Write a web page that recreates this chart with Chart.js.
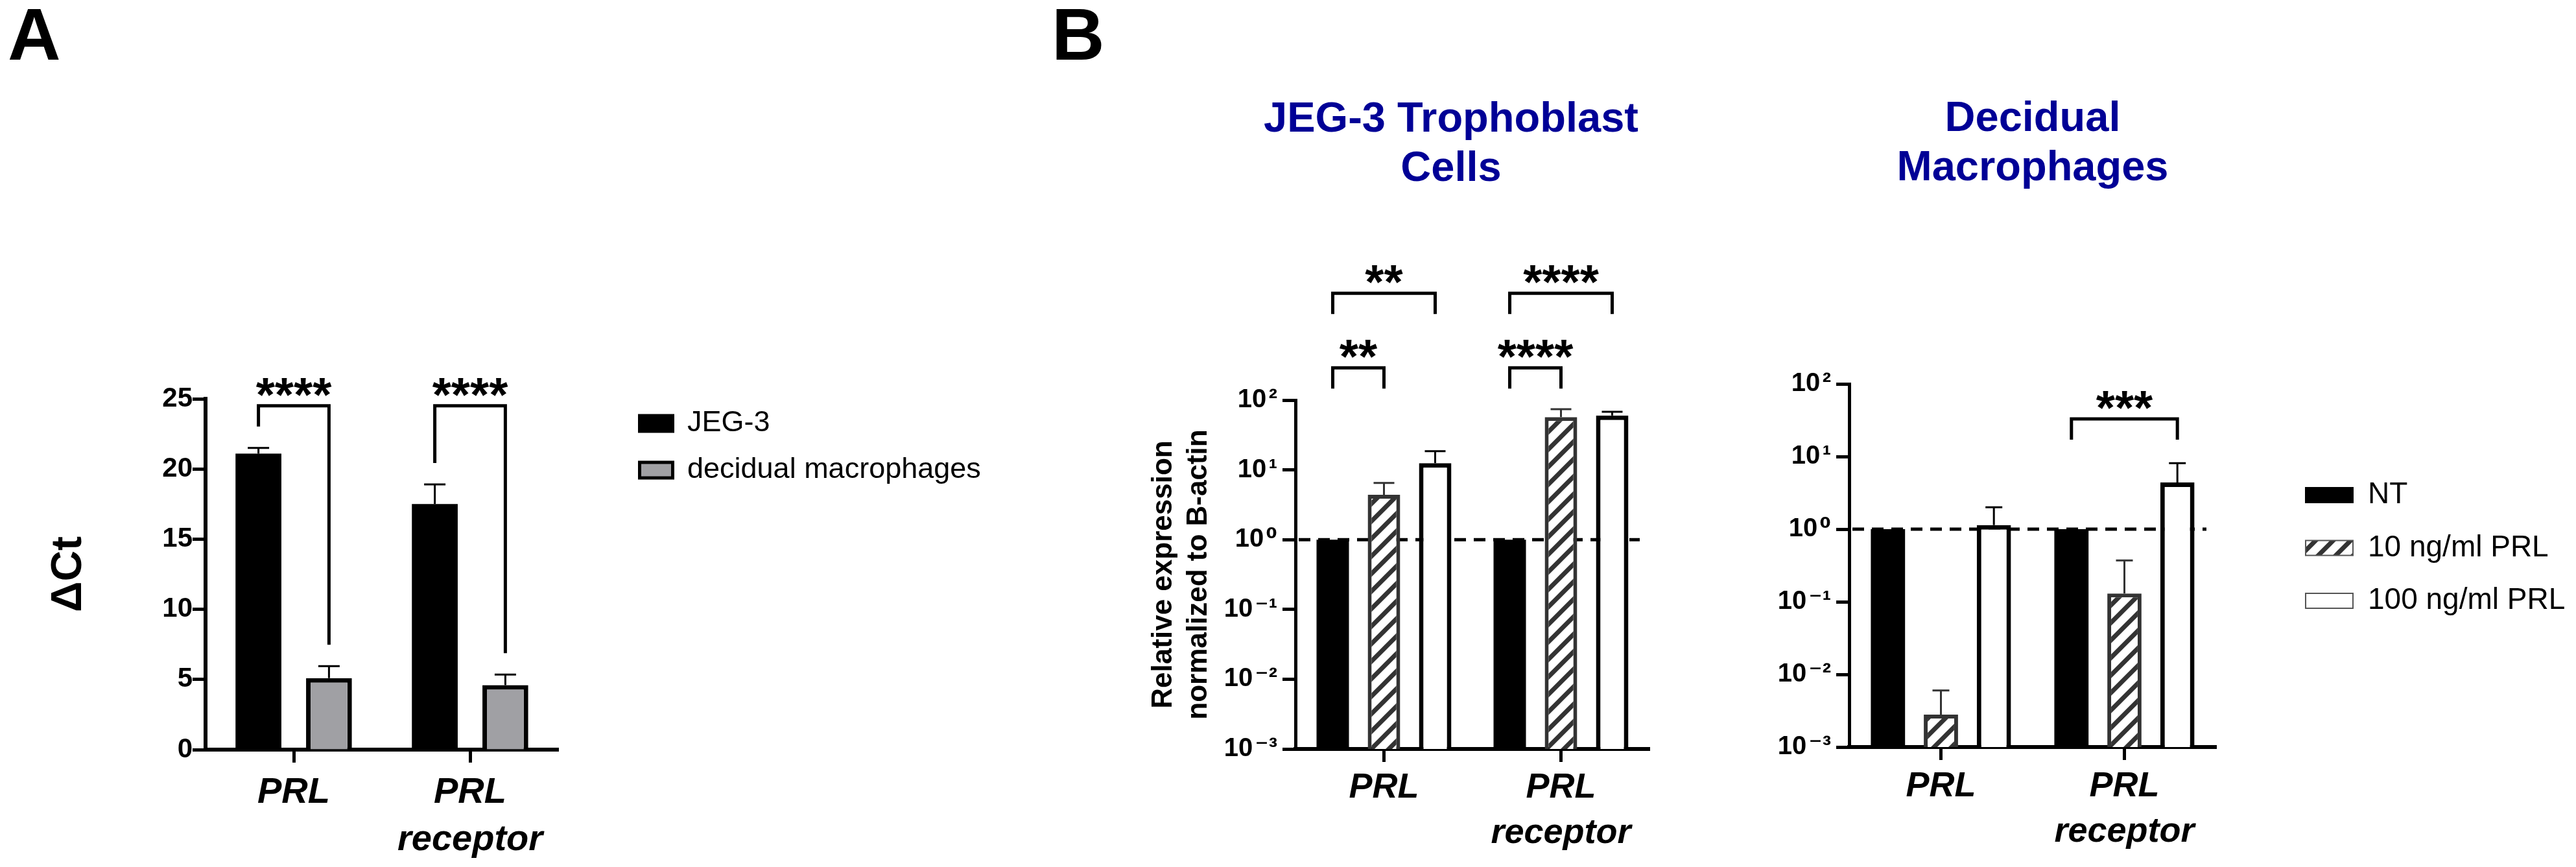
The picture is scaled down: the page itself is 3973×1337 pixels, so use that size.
<!DOCTYPE html>
<html>
<head>
<meta charset="utf-8">
<script src="https://cdn.jsdelivr.net/npm/chart.js@4.4.1/dist/chart.umd.min.js"></script>
<style>
  html, body { margin: 0; padding: 0; background: #fff; }
  body { width: 3973px; height: 1337px; position: relative; overflow: hidden; font-family: 'Liberation Sans', Arial, sans-serif; }
  canvas { position: absolute; top: 0; }
  .tag { position: absolute; top: -3px; font-weight: bold; font-size: 113px; line-height: 113px; }
</style>
</head>
<body>
<div class="tag" style="left:12px">A</div>
<div class="tag" style="left:1622px">B</div>
<canvas id="chartA" width="1620" height="1337" style="left:0"></canvas>
<canvas id="chartB1" width="1200" height="1337" style="left:1650px"></canvas>
<canvas id="chartB2" width="1323" height="1337" style="left:2650px"></canvas>
<script>
// ---- data ----
// panel A: delta Ct
const catsA = ['PRL', ['PRL', 'receptor']];
const jeg3Ct = [21.1, 17.5];
const jeg3CtErr = [21.5, 18.9];
const macroCt = [5.1, 4.6];
const macroCtErr = [5.95, 5.35];

// panel B: relative expression (log axis)
const catsB = ['PRL', ['PRL', 'receptor']];
const logTicks = [0.001, 0.01, 0.1, 1, 10, 100];
const jegNT = [1, 1];
const jeg10 = [4.4, 57];
const jeg10Err = [6.5, 74];
const jeg100 = [12.5, 60];
const jeg100Err = [18.5, 68];
const macNT = [1, 1];
const mac10 = [0.0028, 0.13];
const mac10Err = [0.006, 0.37];
const mac100 = [1.14, 4.4];
const mac100Err = [2.0, 8.1];

// significance: [category, dataset from, dataset to, stars, row]
const sigA = [[0, 0, 1, '****', 0], [1, 0, 1, '****', 0]];
const sigB1 = [[0, 0, 1, '**', 0], [0, 0, 2, '**', 1], [1, 0, 1, '****', 0], [1, 0, 2, '****', 1]];
const sigB2 = [[1, 0, 2, '***', 0]];

Chart.defaults.font.family = "'Liberation Sans', Arial, 'DejaVu Sans', sans-serif";
Chart.defaults.color = '#000';

const supMap = { '-': '\u207B', '0': '\u2070', '1': '\u00B9', '2': '\u00B2', '3': '\u00B3' };
function logLabel(v) {
  const e = Math.round(Math.log10(v));
  return '10\u200A' + String(e).split('').map(c => supMap[c]).join('');
}

function makeHatch() {
  const s = 27;
  const c = document.createElement('canvas');
  c.width = s; c.height = s;
  const g = c.getContext('2d');
  g.fillStyle = '#fff';
  g.fillRect(0, 0, s, s);
  g.strokeStyle = '#333';
  g.lineWidth = 7;
  g.lineCap = 'square';
  g.beginPath();
  for (const k of [-s, 0, s]) {
    g.moveTo(k, s);
    g.lineTo(k + s, 0);
  }
  g.stroke();
  return g.createPattern(c, 'repeat');
}
const hatch = makeHatch();

// error bars (upper only), drawn from each bar top
function errorBars(cap) {
  return {
    id: 'errorBars',
    afterDatasetsDraw(chart) {
      const ctx = chart.ctx, y = chart.scales.y;
      chart.data.datasets.forEach((ds, i) => {
        if (!ds.errTop) return;
        chart.getDatasetMeta(i).data.forEach((bar, j) => {
          const py = y.getPixelForValue(ds.errTop[j]);
          ctx.save();
          ctx.strokeStyle = ds.errColor || '#000';
          ctx.lineWidth = 3;
          ctx.beginPath();
          ctx.moveTo(bar.x, bar.y);
          ctx.lineTo(bar.x, py);
          ctx.moveTo(bar.x - cap / 2, py);
          ctx.lineTo(bar.x + cap / 2, py);
          ctx.stroke();
          ctx.restore();
        });
      });
    }
  };
}

// significance brackets; rows are heights in axis units
function brackets(items, rows, leg, gap) {
  return {
    id: 'brackets',
    afterDraw(chart) {
      const ctx = chart.ctx, y = chart.scales.y;
      items.forEach(([cat, a, b, stars, row]) => {
        const xa = chart.getDatasetMeta(a).data[cat].x;
        const xb = chart.getDatasetMeta(b).data[cat].x;
        const top = y.getPixelForValue(rows[row]);
        const end = ds => leg ? top + leg : y.getPixelForValue(chart.data.datasets[ds].errTop[cat]) - gap;
        ctx.save();
        ctx.strokeStyle = '#000';
        ctx.lineWidth = 5;
        ctx.beginPath();
        ctx.moveTo(xa, end(a));
        ctx.lineTo(xa, top);
        ctx.lineTo(xb, top);
        ctx.lineTo(xb, end(b));
        ctx.stroke();
        ctx.fillStyle = '#000';
        ctx.font = "bold 75px 'Liberation Sans', Arial, sans-serif";
        ctx.textAlign = 'center';
        ctx.textBaseline = 'alphabetic';
        ctx.fillText(stars, (xa + xb) / 2, top + 8);
        ctx.restore();
      });
    }
  };
}

// dashed reference line at 10^0
const refLine = {
  id: 'refLine',
  beforeDatasetsDraw(chart) {
    const ctx = chart.ctx, ca = chart.chartArea;
    const py = chart.scales.y.getPixelForValue(1);
    ctx.save();
    ctx.strokeStyle = '#000';
    ctx.lineWidth = 5;
    ctx.setLineDash([18, 12]);
    ctx.beginPath();
    ctx.moveTo(ca.left + 5, py);
    ctx.lineTo(ca.right - 15, py);
    ctx.stroke();
    ctx.restore();
  }
};

// put the built-in legend at a fixed spot beside the plot
function placeLegend(x, y) {
  return {
    id: 'placeLegend',
    afterLayout(chart) {
      const lg = chart.legend;
      if (!lg) return;
      lg.left = x; lg.top = y;
      lg.right = x + 700; lg.bottom = y + 500;
      lg.width = 700; lg.height = 500;
    }
  };
}

function xAxis(fontSize, lh, pad, h) {
  return {
    offset: true,
    grid: { offset: false, drawOnChartArea: false, tickLength: 20, tickWidth: 5, tickColor: '#000' },
    border: { color: '#000', width: 6 },
    ticks: { color: '#000', padding: pad, maxRotation: 0, autoSkip: false,
      font: { size: fontSize, weight: 'bold', style: 'italic', lineHeight: lh } },
    afterFit: s => { s.height = h; }
  };
}

function logAxis(w, title) {
  return {
    type: 'logarithmic', min: 0.001, max: 100,
    afterBuildTicks: s => { s.ticks = logTicks.map(v => ({ value: v })); },
    ticks: { callback: logLabel, padding: 8, color: '#000', font: { size: 40, weight: 'bold' } },
    grid: { drawOnChartArea: false, tickLength: 20, tickWidth: 5, tickColor: '#000' },
    border: { color: '#000', width: 5 },
    title: title,
    afterFit: s => { s.width = w; }
  };
}

const baseLegendLabels = Chart.defaults.plugins.legend.labels.generateLabels;

// ---- panel A ----
new Chart(document.getElementById('chartA'), {
  type: 'bar',
  data: {
    labels: catsA,
    datasets: [
      { label: 'JEG-3', data: jeg3Ct, errTop: jeg3CtErr, backgroundColor: '#000', borderWidth: 0,
        categoryPercentage: 0.8, barPercentage: 0.65 },
      { label: 'decidual macrophages', data: macroCt, errTop: macroCtErr, backgroundColor: '#a0a0a4',
        borderColor: '#000', borderWidth: 7, categoryPercentage: 0.8, barPercentage: 0.65 }
    ]
  },
  options: {
    responsive: false, animation: false, devicePixelRatio: 1,
    layout: { padding: { left: 0, right: 758, top: 615, bottom: 0 } },
    scales: {
      x: xAxis(56, '73px', 10, 181),
      y: {
        min: 0, max: 25,
        ticks: { stepSize: 5, padding: 0, color: '#000', font: { size: 42, weight: 'bold' } },
        grid: { drawOnChartArea: false, tickLength: 20, tickWidth: 5, tickColor: '#000' },
        border: { color: '#000', width: 6 },
        title: { display: true, text: '\u0394Ct', color: '#000', font: { size: 66, weight: 'bold' },
          padding: { top: 67, bottom: 0 } },
        afterFit: s => { s.width = 317; }
      }
    },
    plugins: {
      tooltip: { enabled: false },
      legend: {
        position: 'right', align: 'start', maxWidth: 1,
        labels: {
          boxWidth: 51, boxHeight: 24, padding: 27, color: '#000', font: { size: 45 },
          generateLabels: chart => baseLegendLabels(chart).map(it =>
            Object.assign(it, { lineWidth: 5, strokeStyle: '#000' }))
        }
      }
    }
  },
  plugins: [errorBars(33), brackets(sigA, [24.5], 0, 33), placeLegend(959.5, 603.5)]
});

// ---- panel B, JEG-3 trophoblast cells ----
new Chart(document.getElementById('chartB1'), {
  type: 'bar',
  data: {
    labels: catsB,
    datasets: [
      { label: 'NT', data: jegNT, backgroundColor: '#000', borderWidth: 0, yAxisID: 'y' },
      { label: '10 ng/ml PRL', data: jeg10, errTop: jeg10Err, errColor: '#333', backgroundColor: hatch,
        borderColor: '#333', borderWidth: 6, yAxisID: 'y' },
      { label: '100 ng/ml PRL', data: jeg100, errTop: jeg100Err, backgroundColor: '#fff',
        borderColor: '#000', borderWidth: 7, yAxisID: 'y' }
    ].map(d => Object.assign(d, { categoryPercentage: 0.868, barPercentage: 0.633 }))
  },
  options: {
    responsive: false, animation: false, devicePixelRatio: 1,
    layout: { padding: { left: 0, right: 24, top: 0, bottom: 0 } },
    scales: {
      x: xAxis(54, '70px', 5, 182),
      y: logAxis(348, {
        display: true, text: ['Relative expression', 'normalized to B-actin'], color: '#000',
        font: { size: 44, weight: 'bold', lineHeight: '54px' }, padding: { top: 118, bottom: 0 }
      }),
      pad: { type: 'linear', position: 'right', grid: { display: false }, border: { display: false },
        ticks: { display: false }, afterFit: s => { s.width = 282; } }
    },
    plugins: {
      tooltip: { enabled: false },
      legend: { display: false },
      title: { display: true, fullSize: true, text: ['JEG-3 Trophoblast', 'Cells'], color: '#000096',
        font: { size: 65, weight: 'bold', lineHeight: '76px' }, padding: { top: 147, bottom: 318 } }
    }
  },
  plugins: [refLine, errorBars(32), brackets(sigB1, [290, 3400], 32, 0)]
});

// ---- panel B, decidual macrophages ----
new Chart(document.getElementById('chartB2'), {
  type: 'bar',
  data: {
    labels: catsB,
    datasets: [
      { label: 'NT', data: macNT, backgroundColor: '#000', borderWidth: 0 },
      { label: '10 ng/ml PRL', data: mac10, errTop: mac10Err, errColor: '#333', backgroundColor: hatch,
        borderColor: '#333', borderWidth: 6 },
      { label: '100 ng/ml PRL', data: mac100, errTop: mac100Err, backgroundColor: '#fff',
        borderColor: '#000', borderWidth: 7 }
    ].map(d => Object.assign(d, { categoryPercentage: 0.866, barPercentage: 0.646 }))
  },
  options: {
    responsive: false, animation: false, devicePixelRatio: 1,
    layout: { padding: { left: 0, right: 554, top: 0, bottom: 0 } },
    scales: {
      x: xAxis(54, '70px', 6, 185),
      y: logAxis(202, { display: false })
    },
    plugins: {
      tooltip: { enabled: false },
      title: { display: true, fullSize: false, text: ['Decidual', 'Macrophages'], color: '#000096',
        font: { size: 65, weight: 'bold', lineHeight: '76px' }, padding: { top: 146, bottom: 294 } },
      legend: {
        position: 'right', align: 'start', maxWidth: 1,
        labels: {
          boxWidth: 73, boxHeight: 23, padding: 35.5, color: '#000', font: { size: 46 },
          generateLabels: chart => baseLegendLabels(chart).map((it, i) =>
            Object.assign(it, { lineWidth: 2, strokeStyle: i ? '#555' : '#000' }))
        }
      }
    }
  },
  plugins: [refLine, errorBars(26), brackets(sigB2, [33], 32, 0), placeLegend(870.5, 705)]
});
</script>
</body>
</html>
